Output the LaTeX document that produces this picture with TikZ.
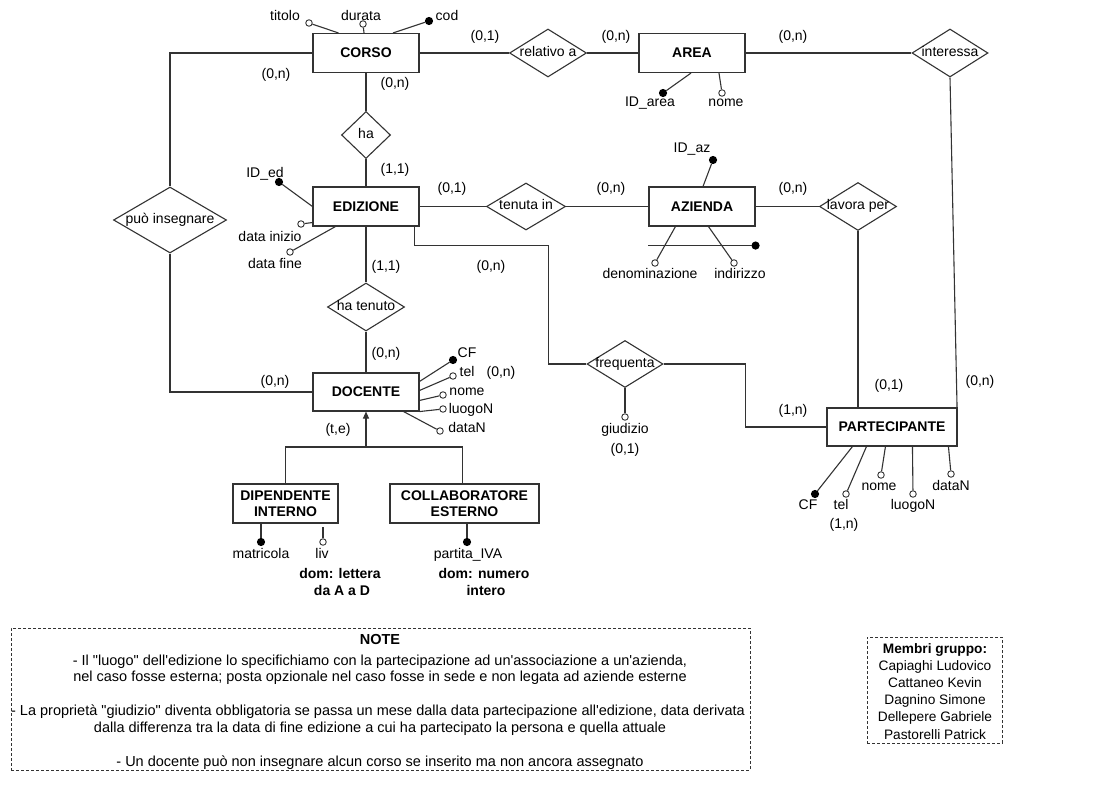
\documentclass[tikz,border=0pt]{standalone}
\usepackage{fontspec}
\newfontfamily\arial{Liberation Sans}
\usetikzlibrary{shapes.geometric,calc,arrows.meta}
\begin{document}
\begin{tikzpicture}[x=1pt,y=-1pt,
  line width=1.1pt,
  every node/.style={font=\arial\fontsize{14}{17}\selectfont, text=black},
  every label/.style={text height=10pt, text depth=3pt, inner sep=0pt},
  ent/.style={draw=black!80, rectangle, minimum width=106pt, minimum height=39pt, inner sep=0pt, font=\arial\fontsize{14}{17}\selectfont\bfseries, fill=white, align=center},
  rel/.style={draw=black!80, diamond, inner sep=0pt, fill=white},
  opt/.style={draw=black!80, circle, fill=white, inner sep=0pt, minimum size=6.5pt, line width=0.9pt},
  key/.style={draw=black, circle, fill=black, inner sep=0pt, minimum size=7pt},
  lbl/.style={inner sep=0pt, text height=10pt, text depth=3pt, yshift=-1.5pt},
  conn/.style={draw=black!80},
  dom/.style={inner sep=0pt, text height=10pt, text depth=3pt, yshift=-1.5pt, font=\arial\fontsize{14}{17}\selectfont\bfseries},
  note/.style={inner sep=0pt, text height=10pt, text depth=3pt, yshift=-1.5pt, font=\arial\fontsize{14.5}{17}\selectfont},
  mem/.style={inner sep=0pt, text height=10pt, text depth=3pt, yshift=-1.5pt, font=\arial\fontsize{13.7}{16}\selectfont},
  dashbox/.style={draw=black!80, line width=0.9pt, dash pattern=on 3pt off 2pt, inner sep=0pt},
]
\fill[white] (0,0) rectangle (1097,786);
\useasboundingbox (0,0) rectangle (1097,786);

% ---------- entities ----------
\node[ent] (corso) at (366,53) {CORSO};
\node[ent] (area) at (692,53) {AREA};
\node[ent] (edizione) at (366,206.5) {EDIZIONE};
\node[ent] (azienda) at (702,206.5) {AZIENDA};
\node[ent, minimum height=38pt] (docente) at (366,392) {DOCENTE};
\node[ent, minimum width=130pt, minimum height=38pt] (partecipante) at (892,427) {PARTECIPANTE};
\node[ent, minimum width=105pt] (dipint) at (285.5,503.5) {DIPENDENTE\\[-1pt]INTERNO};
\node[ent, minimum width=149pt] (collab) at (464.5,503.5) {COLLABORATORE\\[-1pt]ESTERNO};

% ---------- relationships ----------
\node[rel, minimum width=77pt, minimum height=48pt, label={center:relativo a}] (relativo) at (548,53) {};
\node[rel, minimum width=76pt, minimum height=48pt, label={center:interessa}] (interessa) at (950,53) {};
\node[rel, minimum width=49pt, minimum height=47pt, label={center:ha}] (ha) at (366,135) {};
\node[rel, minimum width=79pt, minimum height=47pt, label={center:tenuta in}] (tenuta) at (526,206.5) {};
\node[rel, minimum width=77pt, minimum height=48pt, label={center:lavora per}] (lavora) at (858,206.5) {};
\node[rel, minimum width=77pt, minimum height=48pt, label={center:ha tenuto}] (hatenuto) at (366,307) {};
\node[rel, minimum width=76pt, minimum height=47pt, label={center:frequenta}] (frequenta) at (625,364) {};
\node[rel, minimum width=113pt, minimum height=66pt, label={center:può insegnare}] (puo) at (170,220) {};

% ---------- connectors ----------
\draw[conn] (corso.east) -- (relativo.west);
\draw[conn] (relativo.east) -- (area.west);
\draw[conn] (area.east) -- (interessa.west);
\draw[conn] (corso.west) -| (puo.north);
\draw[conn] (puo.south) |- (docente.west);
\draw[conn] (corso.south) -- (ha.north);
\draw[conn] (ha.south) -- (edizione.north);
\draw[conn] (edizione.east) -- (tenuta.west);
\draw[conn] (tenuta.east) -- (azienda.west);
\draw[conn] (azienda.east) -- (lavora.west);
\draw[conn] (lavora.south) -- (lavora.south |- partecipante.north);
\draw[conn] (interessa.south) -- ($(partecipante.north east)+(-0.5,0)$);
\draw[conn] (edizione.south) -- (hatenuto.north);
\draw[conn] (hatenuto.south) -- (docente.north);
\draw[conn] ($(edizione.south east)+(-5,0)$) -- ++(0,19) -| ($(frequenta.west)+(-38,0)$) -- (frequenta.west);
\draw[conn] (frequenta.east) -- ++(82,0) |- (partecipante.west);

% generalization
\coordinate (gen) at (366,447);
\draw[conn, -{Triangle[length=7pt,width=6pt]}] (gen) -- (docente.south);
\draw[conn] (dipint.north) |- (gen) -| ($(collab.north)+(-2,0)$);

% ---------- attributes: CORSO ----------
\node[opt] (atitolo) at (309,23) {};
\node[lbl] (ltitolo) at (285,16) {titolo};
\draw[conn] (atitolo) -- ($(corso.north west)+(26,0)$);
\node[opt] (adurata) at (363,24) {};
\node[lbl] (ldurata) at (361,15.5) {durata};
\draw[conn] (adurata) -- ($(corso.north)+(-2,0)$);
\node[key] (acod) at (429,21) {};
\node[lbl] (lcod) at (447,16) {cod};
\draw[conn] (acod) -- ($(corso.north)+(27,0)$);

% AREA
\node[key] (aidarea) at (663,93) {};
\node[lbl] (lidarea) at (650,102) {ID\_area};
\draw[conn] (aidarea) -- ($(area.south)+(-1,0)$);
\node[opt] (anomea) at (722,93) {};
\node[lbl] (lnomea) at (726,102) {nome};
\draw[conn] (anomea) -- ($(area.south)+(27,0)$);

% EDIZIONE
\node[key] (aided) at (279,182) {};
\node[lbl] (lided) at (265,173) {ID\_ed};
\draw[conn] (aided) -- (edizione.west);
\node[opt] (adatain) at (301,224) {};
\node[lbl] (ldatain) at (270,237) {data inizio};
\draw[conn] (adatain) -- ($(edizione.south west)+(0,-4)$);
\node[opt] (adatafi) at (290,252) {};
\node[lbl] (ldatafi) at (275,264) {data fine};
\draw[conn] (adatafi) -- ($(edizione.south west)+(23,0)$);

% AZIENDA
\node[key] (aidaz) at (713,160) {};
\node[lbl] (lidaz) at (692,148) {ID\_az};
\draw[conn] (aidaz) -- ($(azienda.north)+(1,0)$);
\coordinate (cidl) at ($(azienda.south west)+(0,19)$);
\node[key] (cidr) at ($(azienda.south east)+(0,19)$) {};
\draw[conn] (cidl) -- (cidr);
\node[opt] (adenom) at (655,263) {};
\node[lbl] (ldenom) at (650,274) {denominazione};
\draw[conn] (adenom) -- ($(azienda.south west)+(27,0)$);
\node[opt] (aindir) at (734,263) {};
\node[lbl] (lindir) at (740,274) {indirizzo};
\draw[conn] (aindir) -- ($(azienda.south west)+(60,0)$);

% DOCENTE
\node[key] (acfd) at (453,360) {};
\node[lbl] (lcfd) at (467,352) {CF};
\draw[conn] (acfd) -- ($(docente.north east)+(0,9)$);
\node[opt] (ateld) at (453,376) {};
\node[lbl] (lteld) at (467,371) {tel};
\node[lbl] (cteld) at (501,371) {(0,n)};
\draw[conn] (ateld) -- ($(docente.north east)+(0,18)$);
\node[opt] (anomed) at (443,395) {};
\node[lbl] (lnomed) at (467,390) {nome};
\draw[conn] (anomed) -- ($(docente.north east)+(0,28)$);
\node[opt] (aluogod) at (443,409) {};
\node[lbl] (lluogod) at (471,408) {luogoN};
\draw[conn] (aluogod) -- (docente.south east);
\node[opt] (adatad) at (440,431) {};
\node[lbl] (ldatad) at (467,427) {dataN};
\draw[conn] (adatad) -- ($(docente.south east)+(-16,0)$);

% PARTECIPANTE
\node[key] (acfp) at (815,494) {};
\node[lbl] (lcfp) at (808,504) {CF};
\draw[conn] (acfp) -- ($(partecipante.south west)+(26,0)$);
\node[opt] (atelp) at (846,494) {};
\node[lbl] (ltelp) at (841,504) {tel};
\node[lbl] (ctelp) at (844,523) {(1,n)};
\draw[conn] (atelp) -- ($(partecipante.south west)+(40,0)$);
\node[opt] (anomep) at (881,475) {};
\node[lbl] (lnomep) at (879,485) {nome};
\draw[conn] (anomep) -- ($(partecipante.south west)+(59,0)$);
\node[opt] (aluogop) at (913,494) {};
\node[lbl] (lluogop) at (913,504) {luogoN};
\draw[conn] (aluogop) -- ($(partecipante.south west)+(86,0)$);
\node[opt] (adatap) at (951,474) {};
\node[lbl] (ldatap) at (951,485) {dataN};
\draw[conn] (adatap) -- ($(partecipante.south west)+(122,0)$);

% frequenta attribute
\node[opt] (agiud) at (625,417) {};
\node[lbl] (lgiud) at (625,428) {giudizio};
\node[lbl] (cgiud) at (625,448) {(0,1)};
\draw[conn] (frequenta.south) -- (agiud);

% DIPENDENTE / COLLABORATORE
\node[key] (amatr) at (261,542) {};
\node[lbl] (lmatr) at (261,553) {matricola};
\draw[conn] (amatr) -- (amatr |- dipint.south);
\node[opt] (aliv) at (323,542) {};
\node[lbl] (lliv) at (322,553) {liv};
\draw[conn] (aliv) -- ($(aliv |- dipint.south)+(0,3)$);
\node[dom] (domliv1) at (340,573) {dom: lettera};
\node[dom] (domliv2) at (342,590) {da A a D};
\node[key] (apiva) at (467,542) {};
\node[lbl] (lpiva) at (468,553) {partita\_IVA};
\draw[conn] (apiva) -- (apiva |- collab.south);
\node[dom] (dompiva1) at (484,573) {dom: numero};
\node[dom] (dompiva2) at (486,590) {intero};

% ---------- cardinalities ----------
\node[lbl] (c1) at (485,36) {(0,1)};
\node[lbl] (c2) at (616,36) {(0,n)};
\node[lbl] (c3) at (793,36) {(0,n)};
\node[lbl] (c4) at (276,74) {(0,n)};
\node[lbl] (c5) at (395,83) {(0,n)};
\node[lbl] (c6) at (395,169) {(1,1)};
\node[lbl] (c7) at (452,188) {(0,1)};
\node[lbl] (c8) at (611,188) {(0,n)};
\node[lbl] (c9) at (793,188) {(0,n)};
\node[lbl] (c10) at (386,265) {(1,1)};
\node[lbl] (c11) at (491,265) {(0,n)};
\node[lbl] (c12) at (386,352) {(0,n)};
\node[lbl] (c13) at (275,380) {(0,n)};
\node[lbl] (c14) at (338,428) {(t,e)};
\node[lbl] (c15) at (793,409) {(1,n)};
\node[lbl] (c16) at (889,384) {(0,1)};
\node[lbl] (c17) at (980,380) {(0,n)};

% ---------- notes ----------
\node[dashbox, minimum width=739pt, minimum height=142pt] (notebox) at (380.5,699) {};
\node[note, font=\arial\fontsize{14.5}{17}\selectfont\bfseries] (nt0) at (380,639) {NOTE};
\node[note] (nt1) at (380,660) {- Il "luogo" dell'edizione lo specifichiamo con la partecipazione ad un'associazione a un'azienda,};
\node[note] (nt2) at (380,676) {nel caso fosse esterna; posta opzionale nel caso fosse in sede e non legata ad aziende esterne};
\node[note] (nt3) at (378,710) {- La proprietà "giudizio" diventa obbligatoria se passa un mese dalla data partecipazione all'edizione, data derivata};
\node[note] (nt4) at (380,727) {dalla differenza tra la data di fine edizione a cui ha partecipato la persona e quella attuale};
\node[note] (nt5) at (380,761) {- Un docente può non insegnare alcun corso se inserito ma non ancora assegnato};

\node[dashbox, minimum width=135pt, minimum height=106pt] (membox) at (934.5,690) {};
\node[mem, font=\arial\fontsize{13.7}{16}\selectfont\bfseries] (m0) at (935,648) {Membri gruppo:};
\node[mem] (m1) at (935,665.2) {Capiaghi Ludovico};
\node[mem] (m2) at (935,682.4) {Cattaneo Kevin};
\node[mem] (m3) at (935,699.6) {Dagnino Simone};
\node[mem] (m4) at (935,716.8) {Dellepere Gabriele};
\node[mem] (m5) at (935,734) {Pastorelli Patrick};
\end{tikzpicture}
\end{document}
